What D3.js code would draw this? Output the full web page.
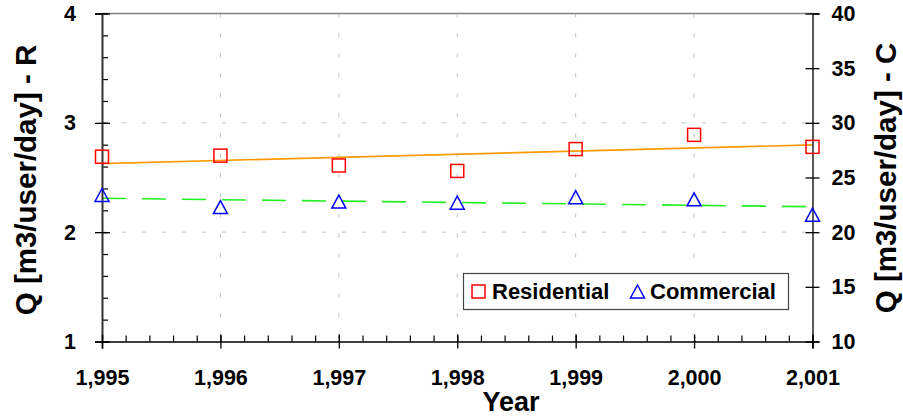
<!DOCTYPE html>
<html>
<head>
<meta charset="utf-8">
<script src="https://cdn.jsdelivr.net/npm/d3@7"></script>
<style>
  html, body { margin: 0; padding: 0; background: #fff; }
  svg { display: block; font-family: "Liberation Sans", Arial, sans-serif; font-weight: bold; }
</style>
</head>
<body>
<svg id="chart" width="903" height="419"></svg>
<script>
// ---- data ----
const years = [1995, 1996, 1997, 1998, 1999, 2000, 2001];
const residential = [2.69, 2.70, 2.61, 2.56, 2.76, 2.89, 2.78];   // left axis
const commercial  = [23.4, 22.3, 22.8, 22.7, 23.2, 23.0, 21.6];   // right axis
const leftTicks  = [1, 2, 3, 4];
const rightTicks = [10, 15, 20, 25, 30, 35, 40];
const seriesNames = ["Residential", "Commercial"];

// ---- layout ----
const L = 102, R = 812.5, T = 13.5, B = 341.5;
const svg = d3.select("#chart");

const x  = d3.scaleLinear().domain([1995, 2001]).range([L, R]);
const yL = d3.scaleLinear().domain([1, 4]).range([B, T]);
const yR = d3.scaleLinear().domain([10, 40]).range([B, T]);

// gridlines
const grid = svg.append("g").attr("stroke", "#c0c0c0").attr("stroke-width", 1)
  .attr("stroke-dasharray", "4,16").attr("fill", "none");
grid.selectAll(".gv").data(years.slice(1, -1)).join("line")
  .attr("x1", d => x(d)).attr("x2", d => x(d)).attr("y1", T).attr("y2", B);
grid.selectAll(".gh").data([2, 3]).join("line")
  .attr("x1", L).attr("x2", R).attr("y1", d => yL(d)).attr("y2", d => yL(d));

// top frame
svg.append("line").attr("x1", L).attr("x2", R).attr("y1", T).attr("y2", T)
  .attr("stroke", "#808080").attr("stroke-width", 1.5);

// linear trend (least squares)
function trend(xs, ys) {
  const n = xs.length, mx = d3.mean(xs), my = d3.mean(ys);
  let sxy = 0, sxx = 0;
  for (let i = 0; i < n; i++) { sxy += (xs[i]-mx)*(ys[i]-my); sxx += (xs[i]-mx)**2; }
  const b = sxy / sxx, a = my - b * mx;
  return [xs[0], xs[n-1]].map(v => [v, a + b * v]);
}
const trR = trend(years, residential);
const trC = trend(years, commercial);

svg.append("path").datum(trR)
  .attr("d", d3.line().x(d => x(d[0])).y(d => yL(d[1])))
  .attr("stroke", "#ff9900").attr("stroke-width", 1.6).attr("fill", "none");
svg.append("path").datum(trC)
  .attr("d", d3.line().x(d => x(d[0])).y(d => yR(d[1])))
  .attr("stroke", "#22ee22").attr("stroke-width", 1.6).attr("fill", "none")
  .attr("stroke-dasharray", "24,16");

// axes
const fontSize = 21.5;
// minor left ticks (inside)
svg.append("g").attr("transform", `translate(${L},0)`)
  .call(d3.axisLeft(yL).tickValues(d3.range(1, 4.001, 0.2)).tickSize(-6).tickFormat(""))
  .call(g => g.select(".domain").remove())
  .call(g => g.selectAll("line").attr("stroke", "#000").attr("stroke-width", 1.2));
const axL = svg.append("g").attr("transform", `translate(${L},0)`)
  .call(d3.axisLeft(yL).tickValues(leftTicks).tickSize(7).tickPadding(19).tickFormat(d3.format("d")));
axL.selectAll(".tick line").attr("x1", 8);
axL.select(".domain").attr("stroke", "#333").attr("stroke-width", 2);

const axR = svg.append("g").attr("transform", `translate(${R},0)`)
  .call(d3.axisRight(yR).tickValues(rightTicks).tickSize(7).tickPadding(12).tickFormat(d3.format("d")));
axR.selectAll(".tick line").attr("x1", -7);
axR.select(".domain").attr("stroke-width", 1.3);

svg.append("g").attr("transform", `translate(0,${B})`)
  .call(d3.axisBottom(x).tickValues(d3.range(1995, 2001.001, 0.2)).tickSize(-6).tickFormat(""))
  .call(g => g.select(".domain").remove())
  .call(g => g.selectAll("line").attr("stroke", "#000").attr("stroke-width", 1.2));
const axB = svg.append("g").attr("transform", `translate(0,${B})`)
  .call(d3.axisBottom(x).tickValues(years).tickSize(7).tickPadding(21).tickFormat(d3.format(",")));
axB.selectAll(".tick line").attr("y1", -7);
axB.select(".domain").attr("stroke-width", 1.6);

[axL, axR, axB].forEach(a => {
  a.attr("font-family", null).attr("font-size", null);
  a.selectAll(".tick text").attr("font-size", fontSize).attr("fill", "#000");
  a.selectAll(".tick line").attr("stroke-width", 1.3);
});

// markers
const sq = 13;
svg.append("g").selectAll("rect").data(years).join("rect")
  .attr("x", (d, i) => x(d) - sq/2).attr("y", (d, i) => yL(residential[i]) - sq/2)
  .attr("width", sq).attr("height", sq)
  .attr("fill", "none").attr("stroke", "#ff0000").attr("stroke-width", 1.5);

const triPath = (cx, cy) => `M${cx},${cy-6.5}L${cx+7},${cy+6.5}L${cx-7},${cy+6.5}Z`;
svg.append("g").selectAll("path").data(years).join("path")
  .attr("d", (d, i) => triPath(x(d), yR(commercial[i])))
  .attr("fill", "none").attr("stroke", "#0000ff").attr("stroke-width", 1.5);

// axis titles
svg.append("text").attr("x", 511).attr("y", 411).attr("text-anchor", "middle")
  .attr("font-size", 27).text("Year");
svg.append("text").attr("transform", "translate(36,180) rotate(-90)")
  .attr("text-anchor", "middle").attr("font-size", 29.5).text("Q [m3/user/day] - R");
svg.append("text").attr("transform", "translate(896,178) rotate(-90)")
  .attr("text-anchor", "middle").attr("font-size", 29.5).text("Q [m3/user/day] - C");

// legend
const lg = svg.append("g");
lg.append("rect").attr("x", 463.5).attr("y", 273.5).attr("width", 325).attr("height", 36)
  .attr("fill", "#fff").attr("stroke", "#444").attr("stroke-width", 1.2);
lg.append("rect").attr("x", 472).attr("y", 285).attr("width", sq).attr("height", sq)
  .attr("fill", "none").attr("stroke", "#ff0000").attr("stroke-width", 1.5);
lg.append("text").attr("x", 492).attr("y", 299).attr("font-size", 22).text(seriesNames[0]);
lg.append("path").attr("d", triPath(637.5, 291.5))
  .attr("fill", "none").attr("stroke", "#0000ff").attr("stroke-width", 1.5);
lg.append("text").attr("x", 650).attr("y", 299).attr("font-size", 22).text(seriesNames[1]);
</script>
</body>
</html>
